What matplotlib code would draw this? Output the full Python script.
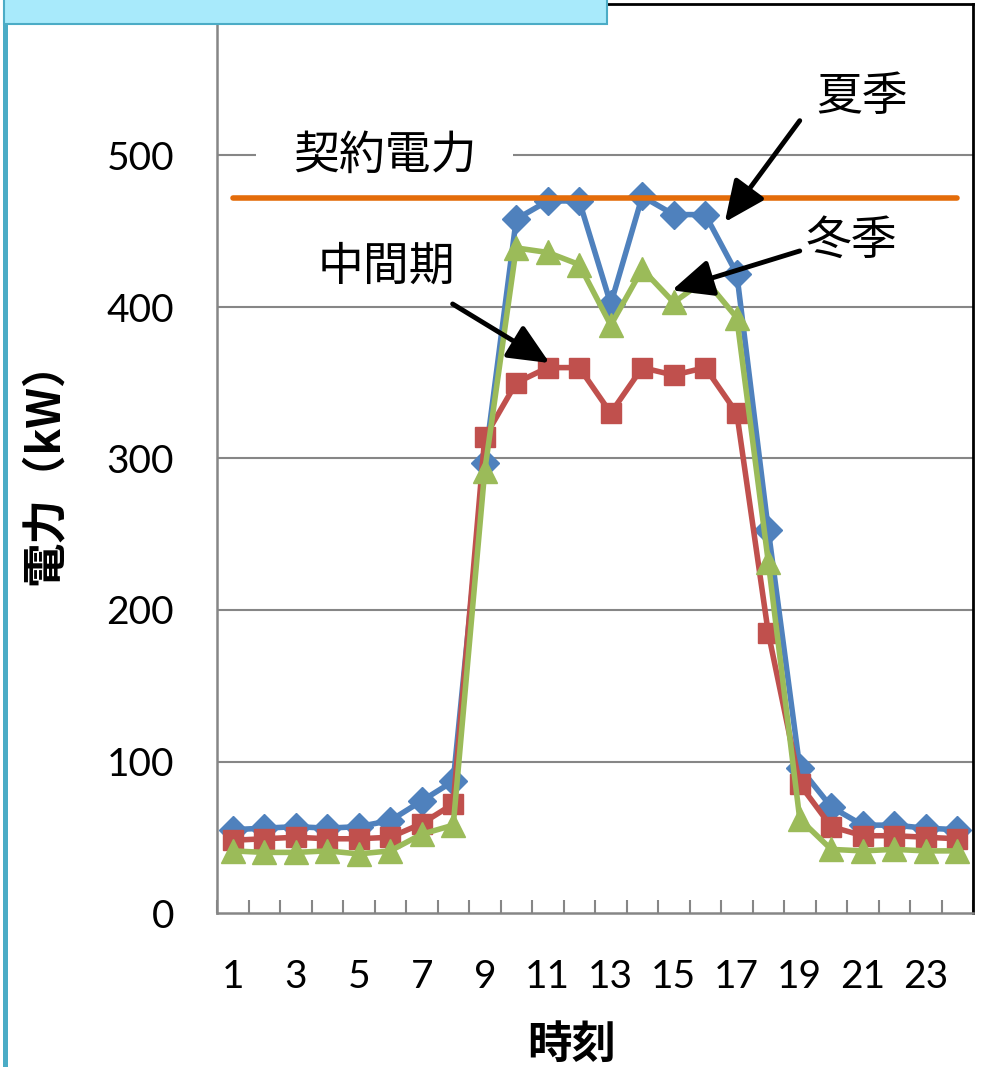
import matplotlib
matplotlib.use("Agg")
import matplotlib.pyplot as plt
from matplotlib.patches import Rectangle
from matplotlib.lines import Line2D

plt.rcParams['font.family'] = ['Noto Sans CJK JP', 'DejaVu Sans']

# hourly load (kW) by season
hours = list(range(1, 25))
summer = [55, 56, 57, 56, 57, 61, 74, 87, 297, 458, 470, 470,
          402, 473, 461, 461, 422, 253, 96, 70, 58, 58, 56, 55]
middle = [48, 49, 50, 49, 49, 50, 59, 72, 314, 350, 360, 360,
          330, 360, 355, 360, 330, 185, 85, 57, 51, 51, 50, 49]
winter = [41, 40, 40, 41, 39, 41, 52, 58, 292, 439, 436, 428,
          388, 425, 403, 418, 393, 232, 62, 42, 41, 42, 41, 41]
contract = [472] * 24
y_ticks = [0, 100, 200, 300, 400, 500]
x_labels = [str(h) for h in range(1, 24, 2)]

W, H = 982, 1067
fig = plt.figure(figsize=(W / 100, H / 100), dpi=100)
ax = fig.add_axes([217 / W, 1 - 913 / H, (973 - 217) / W, (913 - 4) / H])

ax.plot(hours, summer, color='#4F81BD', lw=4.0, marker='D', ms=14,
        mec='#4F81BD', zorder=4)
ax.plot(hours, middle, color='#C0504D', lw=4.0, marker='s', ms=15,
        mec='#C0504D', zorder=5)
ax.plot(hours, winter, color='#9BBB59', lw=4.0, marker='^', ms=17,
        mec='#9BBB59', zorder=6)
ax.plot(hours, contract, color='#E46C0A', lw=4.0, solid_capstyle='round', zorder=7)

ax.set_xlim(0.5, 24.5)
ax.set_ylim(0, 600)
ax.set_yticks(y_ticks)
ax.set_yticklabels([str(v) for v in y_ticks], fontfamily='Lato', fontsize=28)
ax.set_xticks(range(1, 24, 2))
ax.set_xticklabels(x_labels, fontfamily='Lato', fontsize=28)
ax.set_xticks([h + 0.5 for h in range(0, 25)], minor=True)
ax.tick_params(axis='y', length=0, pad=31)
ax.tick_params(axis='x', which='major', length=0, pad=33)
ax.tick_params(axis='x', which='minor', direction='in', length=9.5,
               width=1.5, color='#868686')

ax.set_axisbelow(True)
for v in [100, 200, 300, 400, 500]:
    ax.axhline(v, color='#868686', lw=1.5, zorder=0.5)
for s in ['left', 'bottom']:
    ax.spines[s].set_color('#868686')
    ax.spines[s].set_linewidth(1.8)
for s in ['top', 'right']:
    ax.spines[s].set_color('black')
    ax.spines[s].set_linewidth(2)

# labels on the lines
ax.text(5.83, 500, '契約電力', fontsize=33, ha='center', va='center', zorder=1.5,
        bbox=dict(boxstyle='square,pad=0.8', fc='white', ec='none'))
ax.text(20.97, 539, '夏季', fontsize=33, ha='center', va='center')
ax.text(20.65, 444, '冬季', fontsize=33, ha='center', va='center')
ax.text(5.89, 427, '中間期', fontsize=33, ha='center', va='center')

arrow = dict(arrowstyle='-|>,head_length=1.0,head_width=0.45', color='black',
             lw=3.5, mutation_scale=25, shrinkA=0, shrinkB=0)
ax.annotate('', xy=(16.62, 456), xytext=(19.0, 523), arrowprops=arrow, zorder=8)
ax.annotate('', xy=(14.94, 411), xytext=(19.0, 437), arrowprops=arrow, zorder=8)
ax.annotate('', xy=(11.06, 363), xytext=(7.98, 402), arrowprops=arrow, zorder=8)

fig.text(45 / W, 1 - 462 / H, '電力（kW）', rotation=90, fontsize=32,
         fontweight='bold', ha='center', va='center')
fig.text(572 / W, 1 - 1045 / H, '時刻', fontsize=32, fontweight='bold',
         ha='center', va='center')

# frame pieces of the surrounding slide
fig.patches.append(Rectangle((4 / W, 1 - 24 / H), 603 / W, 40 / H,
                             transform=fig.transFigure, facecolor='#A8EAFB',
                             edgecolor='#4BACC6', lw=1.5, zorder=10))
fig.lines.append(Line2D([4.5 / W, 4.5 / W], [0, 1 - 24 / H],
                        transform=fig.transFigure, color='#4BACC6', lw=3.6))

fig.savefig('out.png', dpi=100)
